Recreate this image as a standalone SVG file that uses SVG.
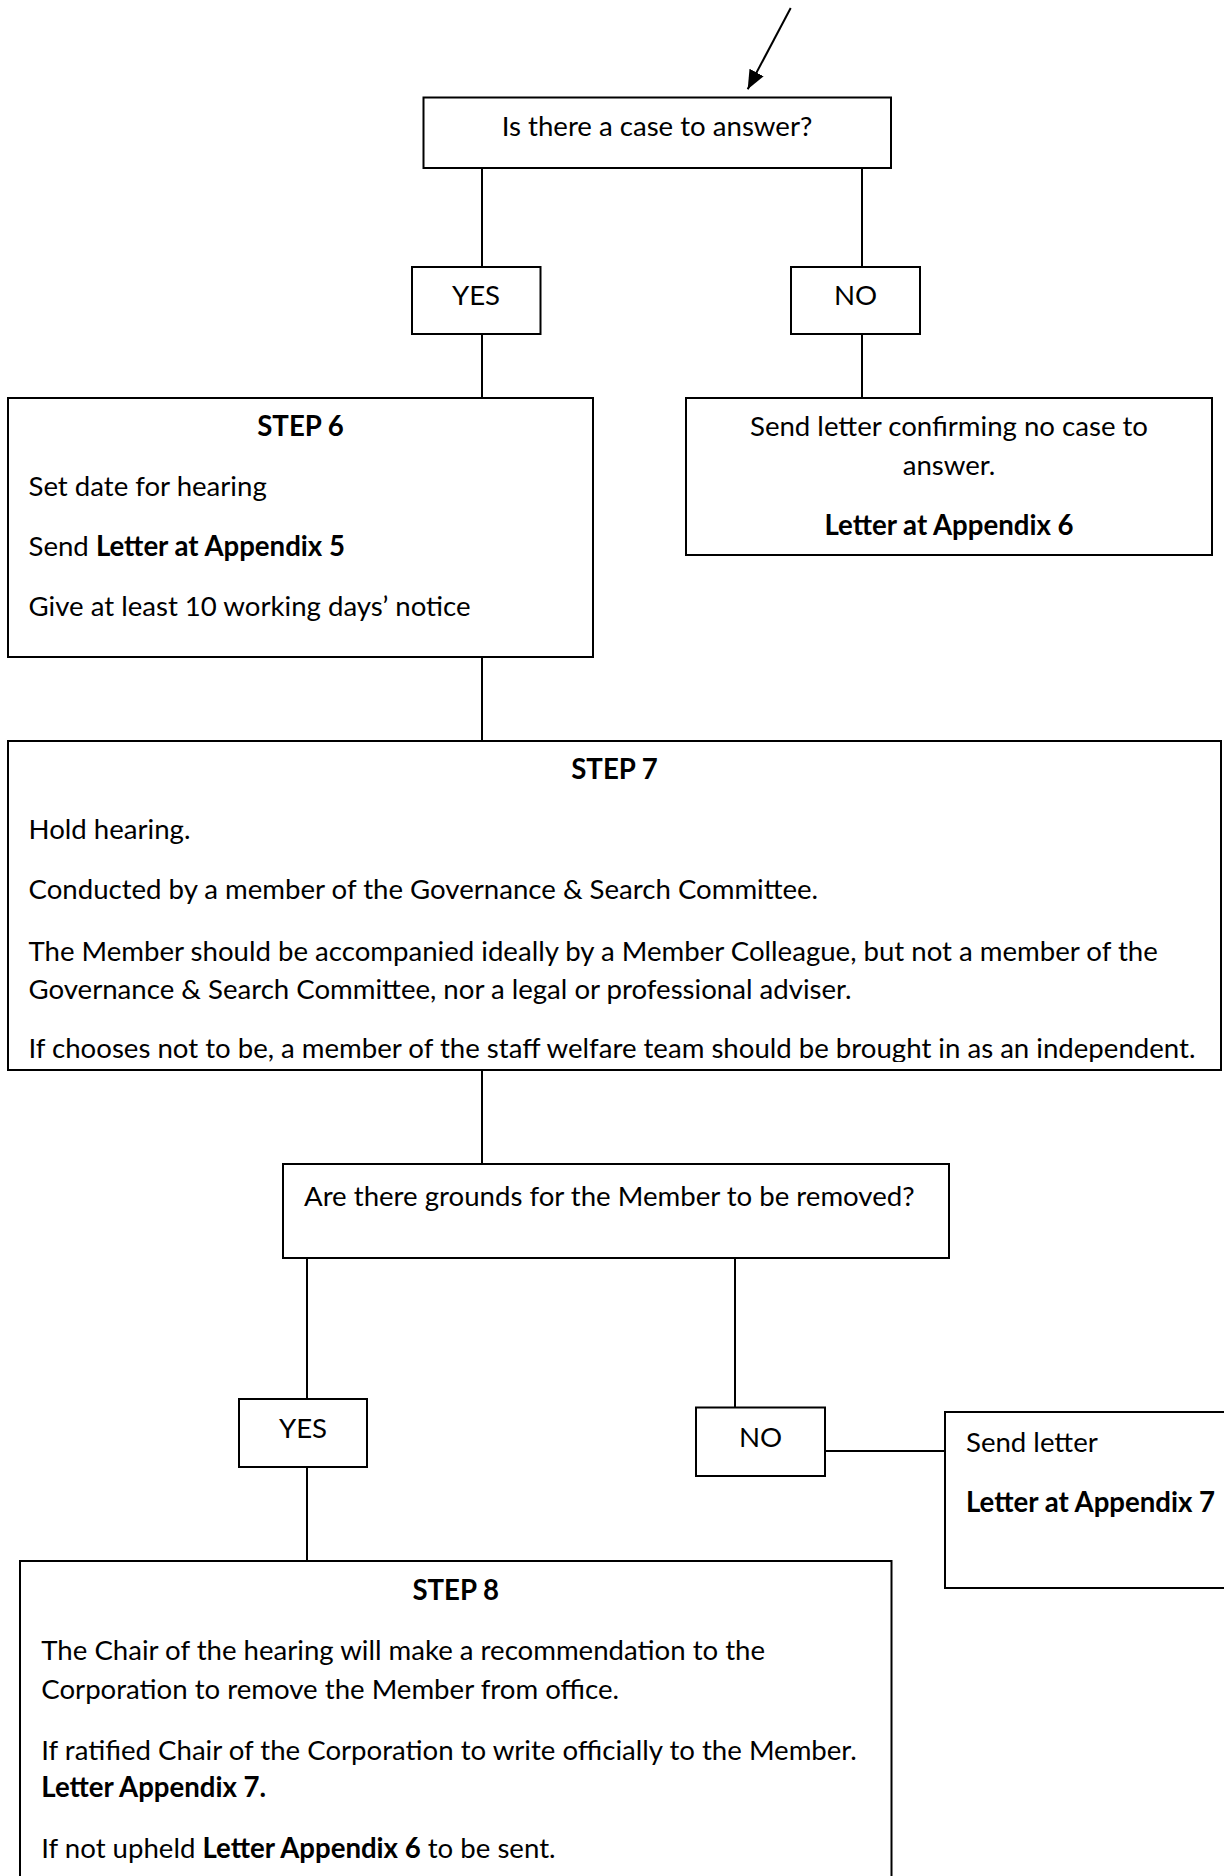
<svg xmlns="http://www.w3.org/2000/svg" width="1224" height="1876" viewBox="0 0 1224 1876">
<style>
.box{fill:#fff;stroke:#000;stroke-width:2}
.ln{stroke:#000;stroke-width:2;fill:none}
text{font-family:Lato,"Liberation Sans",sans-serif;font-size:27.6px;fill:#000}
.c{text-anchor:middle}
.b{font-weight:bold}
</style>
<defs>
<marker id="arr" markerUnits="userSpaceOnUse" markerWidth="22" markerHeight="18" refX="19" refY="8" orient="auto">
<path d="M0,0 L19,8 L0,16 Z" fill="#000"/>
</marker>
<clipPath id="clip7"><rect x="0" y="741" width="1224" height="321"/></clipPath>
</defs>
<rect width="1224" height="1876" fill="#fff"/>
<g id="connectors">
<line class="ln" x1="790.7" y1="8" x2="747.7" y2="89.3" marker-end="url(#arr)"/>
<line class="ln" x1="482" y1="168" x2="482" y2="267"/>
<line class="ln" x1="862" y1="168" x2="862" y2="267"/>
<line class="ln" x1="482" y1="334" x2="482" y2="398"/>
<line class="ln" x1="862" y1="334" x2="862" y2="398"/>
<line class="ln" x1="482" y1="657" x2="482" y2="741"/>
<line class="ln" x1="482" y1="1070" x2="482" y2="1164"/>
<line class="ln" x1="307" y1="1258" x2="307" y2="1399"/>
<line class="ln" x1="735" y1="1258" x2="735" y2="1407.5"/>
<line class="ln" x1="825" y1="1451" x2="945" y2="1451"/>
<line class="ln" x1="307" y1="1467" x2="307" y2="1561"/>
</g>
<g id="q1">
<rect class="box" x="423.5" y="97.5" width="467.5" height="70.5"/>
<text class="c" x="657" y="136">Is there a case to answer?</text>
</g>
<g id="yes1">
<rect class="box" x="412" y="267" width="128.5" height="67"/>
<text class="c" x="476" y="305">YES</text>
</g>
<g id="no1">
<rect class="box" x="791" y="267" width="129" height="67"/>
<text class="c" x="855.5" y="305">NO</text>
</g>
<g id="step6">
<rect class="box" x="8" y="398" width="585" height="259"/>
<text class="c b" x="300.5" y="436">STEP 6</text>
<text x="28.5" y="496">Set date for hearing</text>
<text x="28.5" y="556">Send <tspan class="b">Letter at Appendix 5</tspan></text>
<text x="28.5" y="616">Give at least 10 working days’ notice</text>
</g>
<g id="nocase">
<rect class="box" x="686" y="398" width="526" height="157"/>
<text class="c" x="949" y="436">Send letter confirming no case to</text>
<text class="c" x="949" y="475">answer.</text>
<text class="c b" x="949" y="535">Letter at Appendix 6</text>
</g>
<g id="step7">
<rect class="box" x="8" y="741" width="1213" height="329"/>
<text class="c b" x="614.5" y="779">STEP 7</text>
<text x="28.5" y="839">Hold hearing.</text>
<text x="28.5" y="899">Conducted by a member of the Governance &amp; Search Committee.</text>
<text x="28.5" y="960.5">The Member should be accompanied ideally by a Member Colleague, but not a member of the</text>
<text x="28.5" y="999">Governance &amp; Search Committee, nor a legal or professional adviser.</text>
<text x="28.5" y="1058" clip-path="url(#clip7)">If chooses not to be, a member of the staff welfare team should be brought in as an independent.</text>
</g>
<g id="q2">
<rect class="box" x="283" y="1164" width="666" height="94"/>
<text x="304" y="1205.5">Are there grounds for the Member to be removed?</text>
</g>
<g id="yes2">
<rect class="box" x="239" y="1399" width="128" height="68"/>
<text class="c" x="303" y="1438">YES</text>
</g>
<g id="no2">
<rect class="box" x="696" y="1407.5" width="129" height="68.5"/>
<text class="c" x="760.5" y="1447">NO</text>
</g>
<g id="sendletter">
<rect class="box" x="945" y="1412" width="320" height="176"/>
<text x="966" y="1452">Send letter</text>
<text class="b" x="966" y="1511.5">Letter at Appendix 7</text>
</g>
<g id="step8">
<rect class="box" x="20" y="1561" width="871.5" height="340"/>
<text class="c b" x="455.7" y="1600">STEP 8</text>
<text x="41.3" y="1660">The Chair of the hearing will make a recommendation to the</text>
<text x="41.3" y="1699">Corporation to remove the Member from office.</text>
<text x="41.3" y="1760">If ratified Chair of the Corporation to write officially to the Member.</text>
<text class="b" x="41.3" y="1797">Letter Appendix 7.</text>
<text x="41.3" y="1858">If not upheld <tspan class="b">Letter Appendix 6</tspan> to be sent.</text>
</g>
</svg>
